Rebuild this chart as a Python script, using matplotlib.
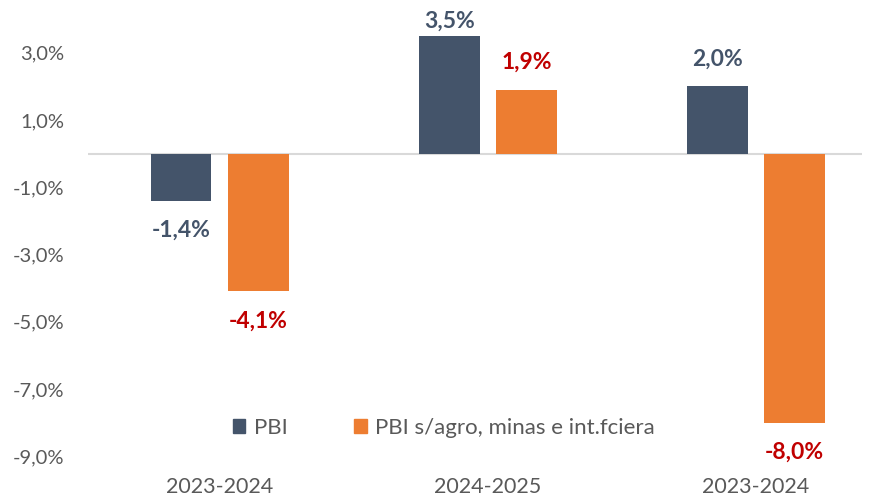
import matplotlib
matplotlib.use("Agg")
import matplotlib.pyplot as plt
import numpy as np
from matplotlib.patches import Patch

categories = ["2023-2024", "2024-2025", "2023-2024"]
pbi = [-1.4, 3.5, 2.0]
pbi_sin = [-4.1, 1.9, -8.0]
series_names = ["PBI", "PBI s/agro, minas e int.fciera"]
yticks = [3, 1, -1, -3, -5, -7, -9]

plt.rcParams['font.family'] = ['Lato', 'DejaVu Sans']

W, H = 877, 498
fig = plt.figure(figsize=(W/100, H/100), dpi=100)
ax_left, ax_right = 88, 862
ax_top, ax_bot = 19, 473
ax = fig.add_axes([ax_left/W, 1-ax_bot/H, (ax_right-ax_left)/W, (ax_bot-ax_top)/H])

x = np.arange(len(categories))
bw = 0.224
off = 0.1437
c1 = "#44546A"
c2 = "#ED7D31"
ax.bar(x - off, pbi, bw, color=c1, zorder=2)
ax.bar(x + off, pbi_sin, bw, color=c2, zorder=2)

ax.set_xlim(-0.4925, 2.3955)
ax.set_ylim(-9.5, 4.0)
ax.axhline(0, color="#D9D9D9", lw=1.5, zorder=1)

for s in ax.spines.values():
    s.set_visible(False)
ax.set_yticks(yticks)
ax.set_yticklabels([f"{v:.1f}%".replace(".", ",") for v in yticks])
ax.set_xticks(x)
ax.set_xticklabels(categories)
ax.tick_params(axis='y', length=0, labelsize=14.5, colors="#595959", pad=17)
ax.tick_params(axis='x', length=0, labelsize=15.5, colors="#595959", pad=3)

def fmt(v):
    return f"{v:.1f}%".replace(".", ",")

LS = 16.5
for xi, v in zip(x, pbi):
    if v >= 0:
        ax.annotate(fmt(v), (xi - off, v), xytext=(0, 3 if v > 3 else 12), textcoords="offset points",
                    ha="center", va="bottom", fontsize=LS, fontweight="bold", color=c1)
    else:
        ax.annotate(fmt(v), (xi - off, v), xytext=(0, -14), textcoords="offset points",
                    ha="center", va="top", fontsize=LS, fontweight="bold", color=c1)
for xi, v in zip(x, pbi_sin):
    if v >= 0:
        ax.annotate(fmt(v), (xi + off, v), xytext=(0, 12), textcoords="offset points",
                    ha="center", va="bottom", fontsize=LS, fontweight="bold", color="#C00000")
    else:
        ax.annotate(fmt(v), (xi + off, v), xytext=(0, -14), textcoords="offset points",
                    ha="center", va="top", fontsize=LS, fontweight="bold", color="#C00000")

handles = [Patch(color=c1), Patch(color=c2)]
leg = ax.legend(handles, series_names, loc="center", bbox_to_anchor=(444/W, 1-428/H),
                bbox_transform=fig.transFigure, ncol=2, frameon=False, fontsize=16,
                handlelength=0.55, handleheight=0.55, handletextpad=0.4, columnspacing=3.0,
                borderpad=0, borderaxespad=0)
for t in leg.get_texts():
    t.set_color("#595959")

fig.savefig("out.png", dpi=100)
